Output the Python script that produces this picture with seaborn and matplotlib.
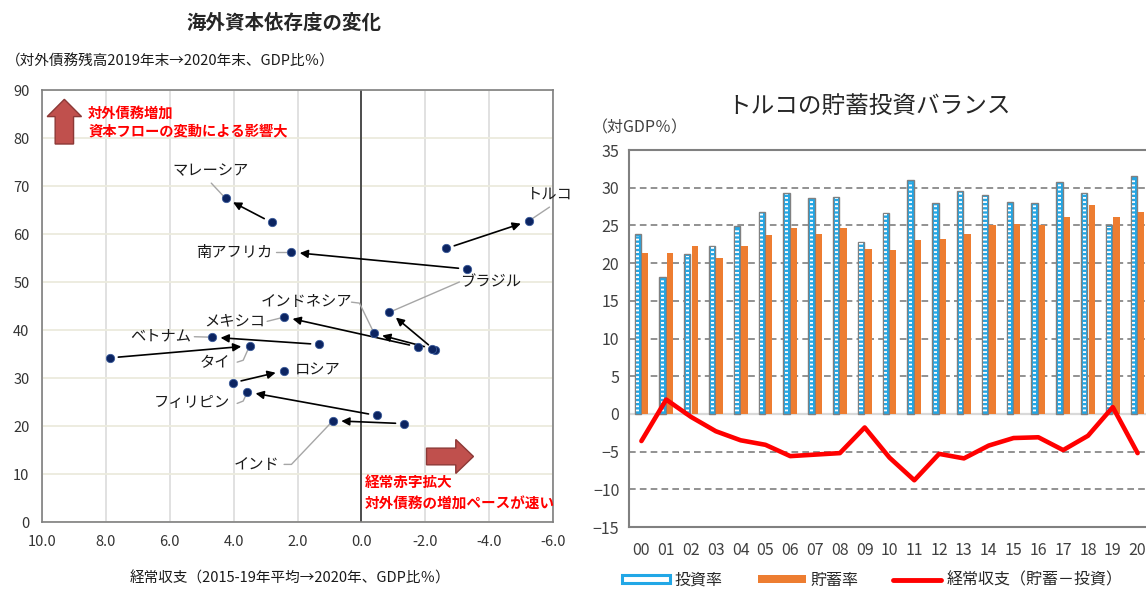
import numpy as np
import pandas as pd
import matplotlib
matplotlib.use("Agg")
import matplotlib.pyplot as plt
import matplotlib.patches as mpatches
from matplotlib.lines import Line2D
import seaborn as sns

# ---- 海外資本依存度の変化 ----
countries = ["マレーシア", "トルコ", "南アフリカ", "ブラジル", "インドネシア", "メキシコ",
             "ベトナム", "タイ", "ロシア", "フィリピン", "インド"]
ca_2015_19 = [2.81, -2.66, -3.30, -2.30, -2.22, -1.76, 1.33, 7.87, 4.02, -0.48, -1.33]
debt_2019 = [62.4, 57.0, 52.7, 35.8, 36.1, 36.5, 37.0, 34.2, 29.0, 22.2, 20.5]
ca_2020 = [4.25, -5.24, 2.19, -0.88, -0.40, 2.41, 4.67, 3.50, 2.43, 3.57, 0.89]
debt_2020 = [67.4, 62.7, 56.2, 43.7, 39.3, 42.7, 38.5, 36.7, 31.5, 27.1, 21.1]
x_ticks = [10, 8, 6, 4, 2, 0, -2, -4, -6]
y_ticks = [0, 10, 20, 30, 40, 50, 60, 70, 80, 90]

# ---- トルコの貯蓄投資バランス ----
years = ["00", "01", "02", "03", "04", "05", "06", "07", "08", "09", "10",
         "11", "12", "13", "14", "15", "16", "17", "18", "19", "20"]
investment = [23.8, 18.1, 21.2, 22.3, 24.9, 26.8, 29.3, 28.7, 28.8, 22.8, 26.7,
              31.0, 28.0, 29.6, 29.0, 28.1, 28.0, 30.7, 29.3, 25.0, 31.5]
saving = [21.4, 21.4, 22.3, 20.7, 22.3, 23.7, 24.6, 23.9, 24.6, 21.9, 21.8,
          23.0, 23.2, 23.9, 25.0, 25.2, 25.0, 26.1, 27.7, 26.1, 26.8]
current_account = [-3.6, 1.9, -0.4, -2.3, -3.5, -4.1, -5.6, -5.4, -5.2, -1.8, -5.8,
                   -8.8, -5.3, -5.9, -4.2, -3.2, -3.1, -4.8, -2.9, 0.9, -5.2]
bar_ticks = [-15, -10, -5, 0, 5, 10, 15, 20, 25, 30, 35]

sns.set_style("white")
plt.rcParams["font.family"] = ["Noto Sans CJK JP", "DejaVu Sans"]
plt.rcParams["hatch.linewidth"] = 1.3

W, H = 1146, 590
fig = plt.figure(figsize=(W / 100, H / 100), dpi=100)


def px_axes(left, top, right, bottom):
    return fig.add_axes([left / W, 1 - bottom / H, (right - left) / W, (bottom - top) / H])


# ================= left panel =================
ax1 = px_axes(42, 90, 553, 522)
ax1.set_xlim(10, -6)
ax1.set_ylim(0, 90)
ax1.set_xticks(x_ticks)
ax1.set_xticklabels([f"{v:.1f}" for v in x_ticks])
ax1.set_yticks(y_ticks)
ax1.set_yticklabels([str(v) for v in y_ticks])
ax1.tick_params(length=0, labelsize=10.5, labelcolor="#333333", pad=9)
ax1.xaxis.grid(True, color="#D9D9D9", lw=1.1)
ax1.yaxis.grid(True, color="#ECEBDD", lw=1.3)
ax1.set_axisbelow(True)
for sp in ax1.spines.values():
    sp.set_color("#7F7F7F")
    sp.set_linewidth(1.2)
ax1.axvline(0, color="#333333", lw=1.2, zorder=1)

for x0, y0, x1, y1 in zip(ca_2015_19, debt_2019, ca_2020, debt_2020):
    ax1.annotate("", xy=(x1, y1), xytext=(x0, y0),
                 arrowprops=dict(arrowstyle="-|>", color="black", lw=1.2,
                                 shrinkA=6, shrinkB=6, mutation_scale=12),
                 zorder=3)

pts = pd.DataFrame({"経常収支": ca_2015_19 + ca_2020, "対外債務": debt_2019 + debt_2020})
sns.scatterplot(data=pts, x="経常収支", y="対外債務", color="#0C2461", s=36,
                edgecolor="#3A5A9A", linewidth=0.6, ax=ax1, zorder=4)
ax1.set_xlabel("")
ax1.set_ylabel("")

# country labels with leader lines
label_style = {
    "マレーシア": dict(xy=(4.73, 73.3), ha="center", lead=[(4.70, 70.6)]),
    "トルコ": dict(xy=(-5.89, 68.3), ha="center", lead=[(-5.89, 65.6)]),
    "南アフリカ": dict(xy=(2.80, 56.2), ha="right", lead=[(2.68, 56.2)]),
    "ブラジル": dict(xy=(-3.10, 50.0), ha="left", lead=[(-3.07, 50.0)]),
    "インドネシア": dict(xy=(1.72, 46.0), ha="center", lead=[(0.31, 45.8), (0.06, 45.6)]),
    "メキシコ": dict(xy=(3.02, 42.0), ha="right", lead=[(2.95, 41.8)]),
    "ベトナム": dict(xy=(5.33, 38.8), ha="right", lead=[(5.23, 38.6)]),
    "タイ": dict(xy=(4.10, 33.3), ha="right", lead=[(3.89, 33.3), (3.70, 33.7)]),
    "ロシア": dict(xy=(2.08, 31.6), ha="left", lead=[]),
    "フィリピン": dict(xy=(4.10, 24.9), ha="right", lead=[(3.89, 24.7), (3.70, 25.2)]),
    "インド": dict(xy=(2.58, 12.0), ha="right", lead=[(2.42, 12.0), (2.19, 12.0)]),
}
for name, x1, y1 in zip(countries, ca_2020, debt_2020):
    st = label_style[name]
    ax1.text(*st["xy"], name, ha=st["ha"], va="center", fontsize=11, color="#1A1A1A", zorder=5)
    if st["lead"]:
        xs = [p[0] for p in st["lead"]] + [x1]
        ys = [p[1] for p in st["lead"]] + [y1]
        ax1.plot(xs, ys, color="#A6A6A6", lw=1.0, zorder=2)

# block arrows
arrow_face, arrow_edge = "#C0504D", "#8C3836"
ax1.add_patch(mpatches.FancyArrow(9.30, 78.75, 0, 88.06 - 78.75, width=0.576, head_width=1.076,
                                  head_length=3.6, length_includes_head=True,
                                  fc=arrow_face, ec=arrow_edge, lw=1.0, zorder=3))
ax1.add_patch(mpatches.FancyArrow(-2.04, 13.65, -3.51 + 2.04, 0, width=3.48, head_width=7.08,
                                  head_length=0.554, length_includes_head=True,
                                  fc=arrow_face, ec=arrow_edge, lw=1.0, zorder=3))
ax1.text(8.56, 83.1, "対外債務増加\n資本フローの変動による影響大", color="#FF0000",
         fontsize=10.3, fontweight="bold", ha="left", va="center", linespacing=1.45, zorder=5)
ax1.text(-0.12, 6.1, "経常赤字拡大\n対外債務の増加ペースが速い", color="#FF0000",
         fontsize=10.5, fontweight="bold", ha="left", va="center", linespacing=1.45, zorder=5)

fig.text(284 / W, 1 - 23 / H, "海外資本依存度の変化", fontsize=14, fontweight="bold",
         ha="center", va="center")
fig.text(6 / W, 1 - 62 / H, "（対外債務残高2019年末→2020年末、GDP比％）", fontsize=10.5,
         ha="left", va="center", color="#1A1A1A")
fig.text(290 / W, 1 - 579 / H, "経常収支（2015-19年平均→2020年、GDP比％）", fontsize=10.5,
         ha="center", va="center", color="#1A1A1A")

# ================= right panel =================
ax2 = px_axes(629, 150, 1150, 527)
blue, orange = "#22A7E6", "#ED7D31"
bars = pd.DataFrame({
    "年": years * 2,
    "系列": ["投資率"] * len(years) + ["貯蓄率"] * len(years),
    "値": investment + saving,
})
sns.barplot(data=bars, x="年", y="値", hue="系列", hue_order=["投資率", "貯蓄率"],
            palette={"投資率": blue, "貯蓄率": orange}, saturation=1,
            width=0.6, gap=0.15, legend=False, ax=ax2, zorder=2)
for rect in ax2.containers[0]:
    rect.set_edgecolor("#808080")
    rect.set_linewidth(1.0)
    x, y = rect.get_x(), rect.get_y()
    w, h = rect.get_width(), rect.get_height()
    inset = w * 0.25
    ax2.add_patch(mpatches.Rectangle((x + inset, y + 0.2), w - 2 * inset, h - 0.4,
                                     facecolor="none", edgecolor="white", hatch="----",
                                     lw=0, zorder=2.5))
for rect in ax2.containers[1]:
    rect.set_linewidth(0)

sns.lineplot(x=np.arange(len(years)), y=current_account, color="#FF0000", lw=3.3,
             ax=ax2, zorder=4)

ax2.set_xlim(-0.5, len(years) - 0.5)
ax2.set_ylim(-15, 35)
ax2.set_yticks(bar_ticks)
ax2.set_xticks(np.arange(len(years)))
ax2.set_xticklabels(years)
ax2.tick_params(length=0, labelsize=11.5, labelcolor="#404040")
ax2.tick_params(axis="x", pad=11)
ax2.tick_params(axis="y", pad=7)
for v in bar_ticks:
    if v in (-15, 35):
        continue
    if v == 0:
        ax2.axhline(0, color="#D9D9D9", lw=1.6, zorder=1)
    else:
        ax2.axhline(v, color="#7F7F7F", lw=1.2, ls=(0, (4, 2.5)), zorder=1)
for sp in ax2.spines.values():
    sp.set_color("#808080")
    sp.set_linewidth(1.5)
ax2.set_xlabel("")
ax2.set_ylabel("")

handles = [
    mpatches.Patch(facecolor="white", edgecolor=blue, lw=2.2),
    mpatches.Patch(facecolor=orange, edgecolor="none"),
    Line2D([], [], color="#FF0000", lw=3.5),
]
fig.legend(handles, ["投資率", "貯蓄率", "経常収支（貯蓄－投資）"], ncol=3,
           loc="center", bbox_to_anchor=(872 / W, 1 - 580 / H), frameon=False,
           fontsize=11.5, handlelength=3.0, handleheight=0.45, columnspacing=2.2,
           handletextpad=0.3)

fig.text(869 / W, 1 - 107 / H, "トルコの貯蓄投資バランス", fontsize=17, ha="center", va="center")
fig.text(592 / W, 1 - 128 / H, "（対GDP％）", fontsize=11.5, ha="left", va="center", color="#404040")

fig.savefig("out.png", dpi=100)
